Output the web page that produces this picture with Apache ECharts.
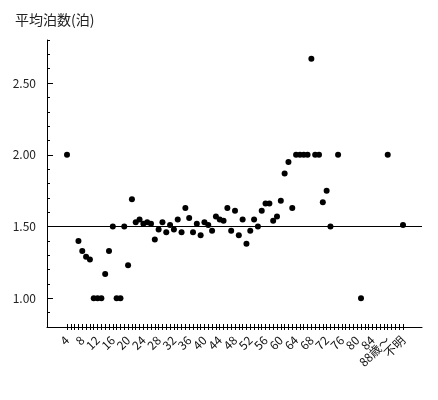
<!DOCTYPE html>
<html>
<head>
<meta charset="utf-8">
<script src="https://cdn.jsdelivr.net/npm/echarts@6/dist/echarts.min.js"></script>
<style>
    html, body { margin: 0; padding: 0; background: #fff; }
    #main { width: 438px; height: 400px; }
</style>
</head>
<body>
<div id="main"></div>
<script>
// 年齢カテゴリ (4歳～88歳以上, 不明)
var ageLabels = ['4', '5', '6', '7', '8', '9', '10', '11', '12', '13', '14', '15', '16', '17', '18', '19',
    '20', '21', '22', '23', '24', '25', '26', '27', '28', '29', '30', '31', '32', '33', '34', '35',
    '36', '37', '38', '39', '40', '41', '42', '43', '44', '45', '46', '47', '48', '49', '50', '51',
    '52', '53', '54', '55', '56', '57', '58', '59', '60', '61', '62', '63', '64', '65', '66', '67',
    '68', '69', '70', '71', '72', '73', '74', '75', '76', '77', '78', '79', '80', '81', '82', '83',
    '84', '85', '86', '87', '88歳～', '89', '90', '91', '不明'];
// 平均泊数 (null = データなし)
var avgNights = [2.00, null, null, 1.40, 1.33, 1.29, 1.27, 1.00, 1.00, 1.00, 1.17, 1.33, 1.50, 1.00, 1.00, 1.50,
    1.23, 1.69, 1.53, 1.55, 1.52, 1.53, 1.52, 1.41, 1.48, 1.53, 1.46, 1.51, 1.48, 1.55, 1.46, 1.63,
    1.56, 1.46, 1.52, 1.44, 1.53, 1.51, 1.47, 1.57, 1.55, 1.54, 1.63, 1.47, 1.61, 1.44, 1.55, 1.38,
    1.47, 1.55, 1.50, 1.61, 1.66, 1.66, 1.54, 1.57, 1.68, 1.87, 1.95, 1.63, 2.00, 2.00, 2.00, 2.00,
    2.67, 2.00, 2.00, 1.67, 1.75, 1.50, null, 2.00, null, null, null, null, null, 1.00, null, null,
    null, null, null, null, 2.00, null, null, null, 1.51];
var yTickLabels = [1.00, 1.50, 2.00, 2.50];
var overallAvg = 1.50;
var yMin = 0.8, yMax = 2.8;

var font = '"Noto Sans CJK JP", "Noto Sans", sans-serif';
var myChart = echarts.init(document.getElementById('main'));

// 斜めラベルが隣と重なると端のラベルが消されるので、3本の軸に振り分けて描く
function labelAxis(residue) {
    return {
        gridIndex: 1, type: 'category', data: ageLabels, boundaryGap: false, position: 'bottom',
        axisLine: { show: false },
        axisTick: { show: false },
        axisLabel: {
            interval: function (index) { return index % 12 === residue; },
            rotate: 45, margin: 11, hideOverlap: false,
            fontFamily: font, fontSize: 12, color: '#111'
        },
        splitLine: { show: false }
    };
}

var option = {
    backgroundColor: '#fff',
    animation: false,
    title: {
        text: '平均泊数(泊)',
        left: 10,
        top: 8,
        textStyle: { fontFamily: font, fontSize: 14, fontWeight: 'normal', color: '#222' }
    },
    grid: [
        // 軸線と基準線用
        { left: 47, right: 16, top: 40, bottom: 73 },
        // 点とカテゴリ目盛り用
        { left: 67, right: 35, top: 40, bottom: 73 }
    ],
    xAxis: [
        {
            gridIndex: 0, type: 'value', min: 0, max: 1, position: 'bottom',
            axisLine: { lineStyle: { color: '#000', width: 1 } },
            axisTick: { show: false }, axisLabel: { show: false }, splitLine: { show: false }
        },
        {
            gridIndex: 1, type: 'category', data: ageLabels, boundaryGap: false, position: 'bottom',
            axisLine: { show: false },
            axisTick: { inside: true, length: 3, interval: 0, lineStyle: { color: '#000' } },
            axisLabel: { show: false }, splitLine: { show: false }
        },
        {
            gridIndex: 1, type: 'category', data: ageLabels, boundaryGap: false, position: 'bottom',
            axisLine: { show: false },
            axisTick: { length: 3, interval: 0, lineStyle: { color: '#000' } },
            axisLabel: { show: false }, splitLine: { show: false }
        },
        labelAxis(0),
        labelAxis(4),
        labelAxis(8)
    ],
    yAxis: [
        {
            gridIndex: 0, type: 'value', min: yMin, max: yMax, position: 'left',
            axisLine: { show: true, lineStyle: { color: '#000', width: 1 } },
            axisTick: { show: true, inside: true, length: 6, customValues: yTickLabels, lineStyle: { color: '#000' } },
            axisLabel: {
                customValues: yTickLabels, margin: 11,
                fontFamily: font, fontSize: 12, color: '#222',
                formatter: function (v) { return v.toFixed(2); }
            },
            splitLine: { show: false }
        },
        {
            gridIndex: 0, type: 'value', min: yMin, max: yMax, interval: 0.1, position: 'left',
            axisLine: { show: false },
            axisTick: { show: true, inside: true, length: 3, lineStyle: { color: '#000' } },
            axisLabel: { show: false }, splitLine: { show: false }
        },
        {
            gridIndex: 1, type: 'value', min: yMin, max: yMax, show: false
        }
    ],
    series: [
        {
            type: 'line',
            xAxisIndex: 0, yAxisIndex: 0,
            data: [],
            markLine: {
                silent: true,
                symbol: 'none',
                label: { show: false },
                lineStyle: { color: '#000', type: 'solid', width: 1 },
                data: [{ yAxis: overallAvg }]
            }
        },
        {
            type: 'scatter',
            xAxisIndex: 2, yAxisIndex: 2,
            symbolSize: 6,
            itemStyle: { color: '#000', opacity: 1 },
            data: avgNights
        }
    ]
};
myChart.setOption(option);
</script>
</body>
</html>
